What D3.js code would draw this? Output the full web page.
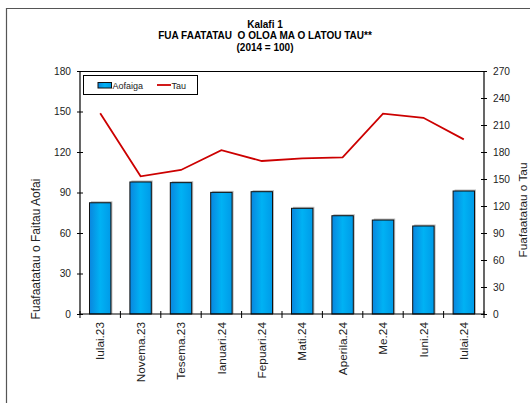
<!DOCTYPE html>
<html><head><meta charset="utf-8">
<script src="https://cdn.jsdelivr.net/npm/d3@7"></script>
<style>
html,body{margin:0;padding:0;background:#fff;}
svg{display:block;font-family:"Liberation Sans",Arial,sans-serif;}
</style></head>
<body>
<svg id="c" width="530" height="403"></svg>
<script>
const categories = ["Iulai.23","Novema.23","Tesema.23","Ianuari.24","Fepuari.24","Mati.24","Aperila.24","Me.24","Iuni.24","Iulai.24"];
const aofaiga = [82.4, 97.8, 97.3, 90.1, 90.6, 78.3, 72.8, 69.6, 65.2, 91.1];
const tau = [223, 153, 160, 182, 170, 173, 174, 222.6, 218, 194];
const leftTicks = [0,30,60,90,120,150,180];
const rightTicks = [0,30,60,90,120,150,180,210,240,270];
const titleLines = ["Kalafi 1","FUA FAATATAU  O OLOA MA O LATOU TAU**","(2014 = 100)"];

const svg = d3.select("#c");
const L = 80, R = 484, T = 71, B = 314;
const FONT = "'Liberation Sans',Arial,sans-serif";

// frame
svg.append("path").attr("d","M6.5,403 V8.5 H530").attr("fill","none").attr("stroke","#555").attr("stroke-width",1.2);

// title
svg.append("g").selectAll("text").data(titleLines).enter().append("text")
  .attr("x",265).attr("y",(d,i)=>28+i*11.3).attr("text-anchor","middle")
  .style("white-space","pre")
  .attr("font-size","10px").attr("font-weight","bold").attr("fill","#000").text(d=>d);

const x = d3.scaleBand().domain(categories).range([L,R]).paddingInner(0.47).paddingOuter(0.235);
const xStep = d3.scaleBand().domain(categories).range([L,R]);
const yL = d3.scaleLinear().domain([0,180]).range([B,T]);
const yR = d3.scaleLinear().domain([0,270]).range([B,T]);

// gradient
const defs = svg.append("defs");
const g = defs.append("linearGradient").attr("id","bg").attr("x1","0").attr("x2","1");
g.append("stop").attr("offset","0").attr("stop-color","#0a86de");
g.append("stop").attr("offset","0.5").attr("stop-color","#00b2f4");
g.append("stop").attr("offset","1").attr("stop-color","#009ae8");

// top border of plot
svg.append("line").attr("x1",L).attr("x2",R).attr("y1",T+0.5).attr("y2",T+0.5).attr("stroke","#000");

// bars shadow
svg.append("g").selectAll("rect").data(aofaiga).enter().append("rect")
  .attr("x",(d,i)=>x(categories[i])+1.5).attr("y",d=>yL(d)-1.5)
  .attr("width",x.bandwidth()).attr("height",d=>B-yL(d)+1.5).attr("fill","#bbb");
// bars
svg.append("g").selectAll("rect").data(aofaiga).enter().append("rect")
  .attr("x",(d,i)=>x(categories[i])).attr("y",d=>yL(d))
  .attr("width",x.bandwidth()).attr("height",d=>B-yL(d))
  .attr("fill","url(#bg)").attr("stroke","#111").attr("stroke-width",1);

// line
const line = d3.line().x((d,i)=>xStep(categories[i])+xStep.bandwidth()/2).y(d=>yR(d));
svg.append("path").datum(tau).attr("d",line).attr("fill","none").attr("stroke","#cc0000").attr("stroke-width",1.8);

// left axis
const la = svg.append("g").attr("transform",`translate(${L},0)`)
  .call(d3.axisLeft(yL).tickValues(leftTicks).tickSize(3).tickPadding(6));
la.selectAll(".tick line").attr("x2",3).attr("x1",-3);
// right axis
const ra = svg.append("g").attr("transform",`translate(${R},0)`)
  .call(d3.axisRight(yR).tickValues(rightTicks).tickSize(3).tickPadding(6));
ra.selectAll(".tick line").attr("x1",-3).attr("x2",3);
// bottom axis
const ba = svg.append("g").attr("transform",`translate(0,${B})`)
  .call(d3.axisBottom(xStep).tickSize(0).tickPadding(0));
[la,ra,ba].forEach(a=>{a.select(".domain").attr("stroke","#000").attr("stroke-width",1.2);
  a.selectAll("text").attr("font-size","10.2px").attr("fill","#222").attr("font-family",FONT);
  a.selectAll(".tick line").attr("stroke","#000");});
la.select(".domain").attr("d",`M0,${B}V${T}`);
ra.select(".domain").attr("d",`M0,${B}V${T}`);
ba.select(".domain").attr("d",`M${L},0H${R}`);
ba.selectAll(".tick text").attr("transform","rotate(-90)").attr("text-anchor","end")
  .attr("font-size","11.8px").attr("x",-8).attr("y",0).attr("dy","0.36em");
// category boundary ticks
const bounds = categories.map(c=>xStep(c)).concat([R]);
svg.append("g").selectAll("line").data(bounds).enter().append("line")
  .attr("x1",d=>d).attr("x2",d=>d).attr("y1",B-3).attr("y2",B+4).attr("stroke","#000");

// axis titles
svg.append("text").attr("transform","translate(40,249) rotate(-90)").attr("text-anchor","middle")
  .attr("font-size","12px").attr("fill","#222").text("Fuafaatatau o Faitau Aofai");
svg.append("text").attr("transform","translate(527,210) rotate(-90)").attr("text-anchor","middle")
  .attr("font-size","11.8px").attr("fill","#222").text("Fuafaatatau o Tau");

// legend
const lg = svg.append("g");
lg.append("rect").attr("x",83.5).attr("y",75.5).attr("width",114).attr("height",19).attr("fill","#fff").attr("stroke","#000");
lg.append("rect").attr("x",98).attr("y",82.5).attr("width",13.5).attr("height",5.5).attr("fill","url(#bg)").attr("stroke","#111");
lg.append("text").attr("x",112.5).attr("y",88.5).attr("font-size","9px").attr("fill","#222").text("Aofaiga");
lg.append("line").attr("x1",157).attr("x2",171).attr("y1",85).attr("y2",85).attr("stroke","#cc0000").attr("stroke-width",1.8);
lg.append("text").attr("x",171.5).attr("y",88.5).attr("font-size","9px").attr("fill","#222").text("Tau");
</script>
</body></html>
